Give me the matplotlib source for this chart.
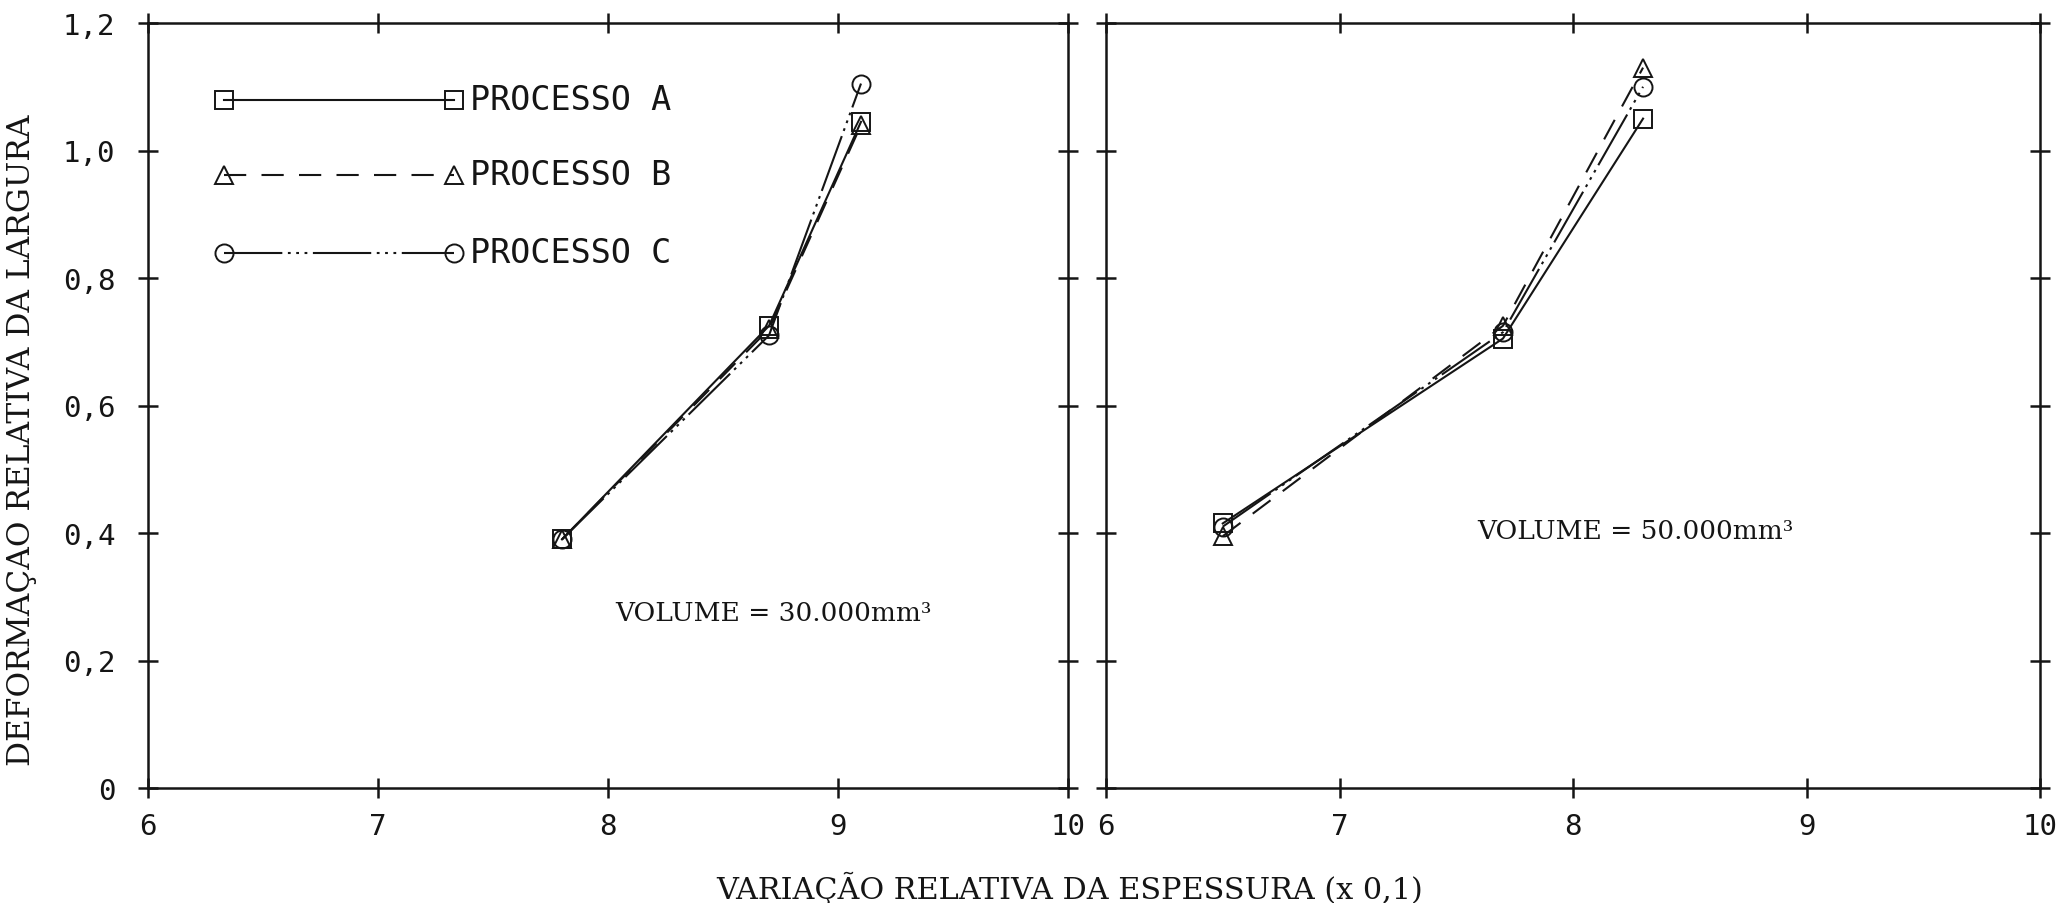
import matplotlib
matplotlib.use("Agg")
import matplotlib.pyplot as plt

plt.rcParams['lines.scale_dashes'] = False

# ---- data -------------------------------------------------------------
processes = ["PROCESSO A", "PROCESSO B", "PROCESSO C"]

x_30 = [7.8, 8.7, 9.1]
a_30 = [0.39, 0.725, 1.045]
b_30 = [0.39, 0.72, 1.04]
c_30 = [0.39, 0.71, 1.105]

x_50 = [6.5, 7.7, 8.3]
a_50 = [0.415, 0.705, 1.05]
b_50 = [0.395, 0.725, 1.13]
c_50 = [0.41, 0.715, 1.10]

x_ticks = [6, 7, 8, 9, 10]
x_ticklabels = ["6", "7", "8", "9", "10"]
y_ticks = [0, 0.2, 0.4, 0.6, 0.8, 1.0, 1.2]
y_ticklabels = ["0", "0,2", "0,4", "0,6", "0,8", "1,0", "1,2"]

volume_30 = "VOLUME = 30.000mm³"
volume_50 = "VOLUME = 50.000mm³"
x_label = "VARIAÇÃO RELATIVA DA ESPESSURA (x 0,1)"
y_label = "DEFORMAÇAO RELATIVA DA LARGURA"

# ---- styles -----------------------------------------------------------
INK = "#151515"
SERIF = ["DejaVu Serif"]
PLOTTER = ["DejaVu Sans Mono"]

styles = [
    dict(marker="s", linestyle="-"),
    dict(marker="^", dashes=(16, 11)),
    dict(marker="o", dashes=(42, 4, 2, 4, 2, 4, 2, 4)),
]
common = dict(color=INK, lw=1.5, markersize=13, mfc="none", mec=INK, mew=1.4)

W, H = 2058, 904
fig = plt.figure(figsize=(W / 100, H / 100), dpi=100)
ax1 = fig.add_axes([148 / W, 115 / H, 920 / W, 765 / H])
ax2 = fig.add_axes([1106 / W, 115 / H, 934 / W, 765 / H])


def frame(ax, show_ylabels):
    ax.set_xlim(6, 10)
    ax.set_ylim(0, 1.2)
    ax.set_xticks(x_ticks)
    ax.set_xticklabels(x_ticklabels, family=PLOTTER, fontsize=21, color=INK)
    ax.set_yticks(y_ticks)
    if show_ylabels:
        ax.set_yticklabels(y_ticklabels, family=PLOTTER, fontsize=21, color=INK)
    else:
        ax.set_yticklabels([])
    ax.tick_params(direction="inout", length=15, width=1.8, color=INK,
                   top=True, right=True)
    ax.tick_params(axis="x", pad=10)
    ax.tick_params(axis="y", pad=16)
    for s in ax.spines.values():
        s.set_linewidth(1.8)
        s.set_color(INK)


frame(ax1, True)
frame(ax2, False)

# ---- curves -----------------------------------------------------------
for ax, xs, ys in [(ax1, x_30, [a_30, b_30, c_30]),
                   (ax2, x_50, [a_50, b_50, c_50])]:
    for y, st in zip(ys, styles):
        ax.plot(xs, y, **st, **common, clip_on=False)

# ---- key ---------------------------------------------------------------
key_x = [6.33, 7.33]
key_y = [1.08, 0.962, 0.84]
for name, yk, st in zip(processes, key_y, styles):
    ax1.plot(key_x, [yk, yk], **st, **common)
    ax1.text(7.40, yk, name, family=PLOTTER, fontsize=24, color=INK,
             va="center", ha="left")

# ---- annotations -------------------------------------------------------
ax1.text(8.03, 0.276, volume_30, family=SERIF, fontsize=19, color=INK,
         va="center", ha="left")
ax2.text(7.59, 0.404, volume_50, family=SERIF, fontsize=19, color=INK,
         va="center", ha="left")

fig.text(1070 / W, 1 - 888 / H, x_label, family=SERIF, fontsize=21.8,
         color=INK, ha="center", va="center")
fig.text(22 / W, 1 - 440 / H, y_label, family=SERIF, fontsize=22.5,
         color=INK, ha="center", va="center", rotation=90)

fig.savefig("out.png", dpi=100, facecolor="white")
